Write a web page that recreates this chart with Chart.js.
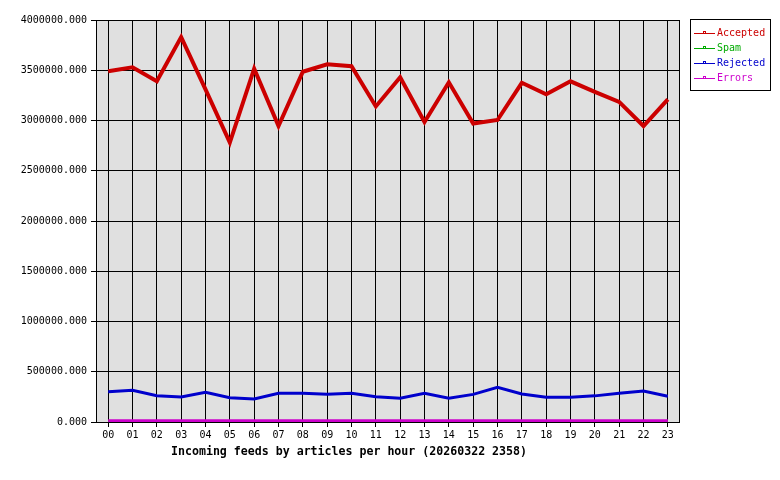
<!DOCTYPE html>
<html>
<head>
<meta charset="utf-8">
<title>Incoming feeds by articles per hour</title>
<script src="https://cdn.jsdelivr.net/npm/chart.js@4.4.1/dist/chart.umd.min.js"></script>
<style>
  body { margin: 0; background: #fff; }
  #wrap { width: 780px; height: 480px; }
</style>
</head>
<body>
<div id="wrap"><canvas id="feeds_chart"></canvas></div>

<script>
  // data
  var hours = ['00','01','02','03','04','05','06','07','08','09','10','11',
               '12','13','14','15','16','17','18','19','20','21','22','23'];
  var accepted = [3490000, 3530000, 3390000, 3830000, 3310000, 2780000, 3515000, 2945000,
                  3485000, 3560000, 3540000, 3140000, 3430000, 2985000, 3380000, 2970000,
                  3005000, 3375000, 3260000, 3390000, 3285000, 3185000, 2945000, 3210000];
  var rejected = [301000, 315000, 262000, 250000, 295000, 242000, 229000, 285000,
                  285000, 275000, 285000, 252000, 237000, 285000, 236000, 275000,
                  345000, 279000, 246000, 246000, 260000, 285000, 308000, 256000];
  var spam   = [0,0,0,0,0,0,0,0,0,0,0,0,0,0,0,0,0,0,0,0,0,0,0,0];
  var errors = [12000,12000,12000,12000,12000,12000,12000,12000,12000,12000,12000,12000,
                12000,12000,12000,12000,12000,12000,12000,12000,12000,12000,12000,12000];
  var chartTitle = 'Incoming feeds by articles per hour (20260322 2358)';

  var MONO = '"DejaVu Sans Mono", "Liberation Mono", monospace';

  // grey plot background + black frame round the plot
  var frame = {
    id: 'frame',
    beforeDraw(c) {
      var a = c.chartArea, ctx = c.ctx;
      ctx.save();
      ctx.fillStyle = '#e0e0e0';
      ctx.fillRect(a.left, a.top, a.right - a.left, a.bottom - a.top);
      ctx.restore();
    },
    afterDraw(c) {
      var a = c.chartArea, ctx = c.ctx;
      ctx.save();
      ctx.strokeStyle = '#000';
      ctx.lineWidth = 1;
      ctx.strokeRect(Math.round(a.left) + 0.5, Math.round(a.top) + 0.5,
                     Math.round(a.right - a.left) - 1, Math.round(a.bottom - a.top));
      // axis caption (sits left of centre in the original)
      ctx.fillStyle = '#000';
      ctx.font = 'bold 11.6px ' + MONO;
      ctx.textAlign = 'center';
      ctx.textBaseline = 'middle';
      ctx.fillText(chartTitle, 349, 452);
      ctx.restore();
    }
  };

  // boxed legend on the right, text in series colour
  var boxLegend = {
    id: 'boxLegend',
    afterDraw(c) {
      var ctx = c.ctx;
      var sets = c.data.datasets;
      ctx.save();
      ctx.strokeStyle = '#000';
      ctx.lineWidth = 1;
      ctx.strokeRect(690.5, 19.5, 80, 71);
      ctx.font = '10px ' + MONO;
      ctx.textBaseline = 'middle';
      ctx.textAlign = 'left';
      for (var i = 0; i < sets.length; i++) {
        var y = 33 + i * 15;
        ctx.strokeStyle = sets[i].borderColor;
        ctx.beginPath();
        ctx.moveTo(694, y + 0.5);
        ctx.lineTo(715, y + 0.5);
        ctx.stroke();
        ctx.strokeRect(703.5, y - 1.5, 2, 2);
        ctx.fillStyle = sets[i].borderColor;
        ctx.fillText(sets[i].label, 717, y + 0.5);
      }
      ctx.restore();
    }
  };

  var ctx = document.getElementById('feeds_chart').getContext('2d');
  var chart = new Chart(ctx, {
    type: 'line',
    data: {
      labels: hours,
      datasets: [
        { label: 'Accepted', data: accepted, borderColor: '#cc0000', borderWidth: 4, order: 1 },
        { label: 'Spam',     data: spam,     borderColor: '#00aa00', borderWidth: 3, order: 3 },
        { label: 'Rejected', data: rejected, borderColor: '#0000cc', borderWidth: 3, order: 2 },
        { label: 'Errors',   data: errors,   borderColor: '#cc00cc', borderWidth: 3, order: 0 }
      ]
    },
    options: {
      responsive: true,
      maintainAspectRatio: false,
      animation: false,
      layout: { padding: { top: 20, right: 100, left: 0, bottom: 0 } },
      elements: {
        point: { radius: 0 },
        line: { tension: 0, borderCapStyle: 'butt', borderJoinStyle: 'miter' }
      },
      plugins: {
        legend: { display: false },
        tooltip: { enabled: false }
      },
      scales: {
        x: {
          offset: true,
          grid: { offset: false, color: '#000', lineWidth: 1, tickLength: 5, drawTicks: true },
          border: { display: false },
          ticks: { color: '#000', font: { family: MONO, size: 10 }, padding: 2, maxRotation: 0, autoSkip: false },
          afterFit(s) { s.height = 58; }
        },
        y: {
          min: 0,
          max: 4000000,
          grid: { color: '#000', lineWidth: 1, tickLength: 5 },
          border: { display: false },
          ticks: {
            stepSize: 500000,
            color: '#000',
            font: { family: MONO, size: 10 },
            padding: 4,
            callback: function (v) { return v.toFixed(3); }
          },
          afterFit(s) { s.width = 96; }
        }
      }
    },
    plugins: [frame, boxLegend]
  });
</script>
</body>
</html>
